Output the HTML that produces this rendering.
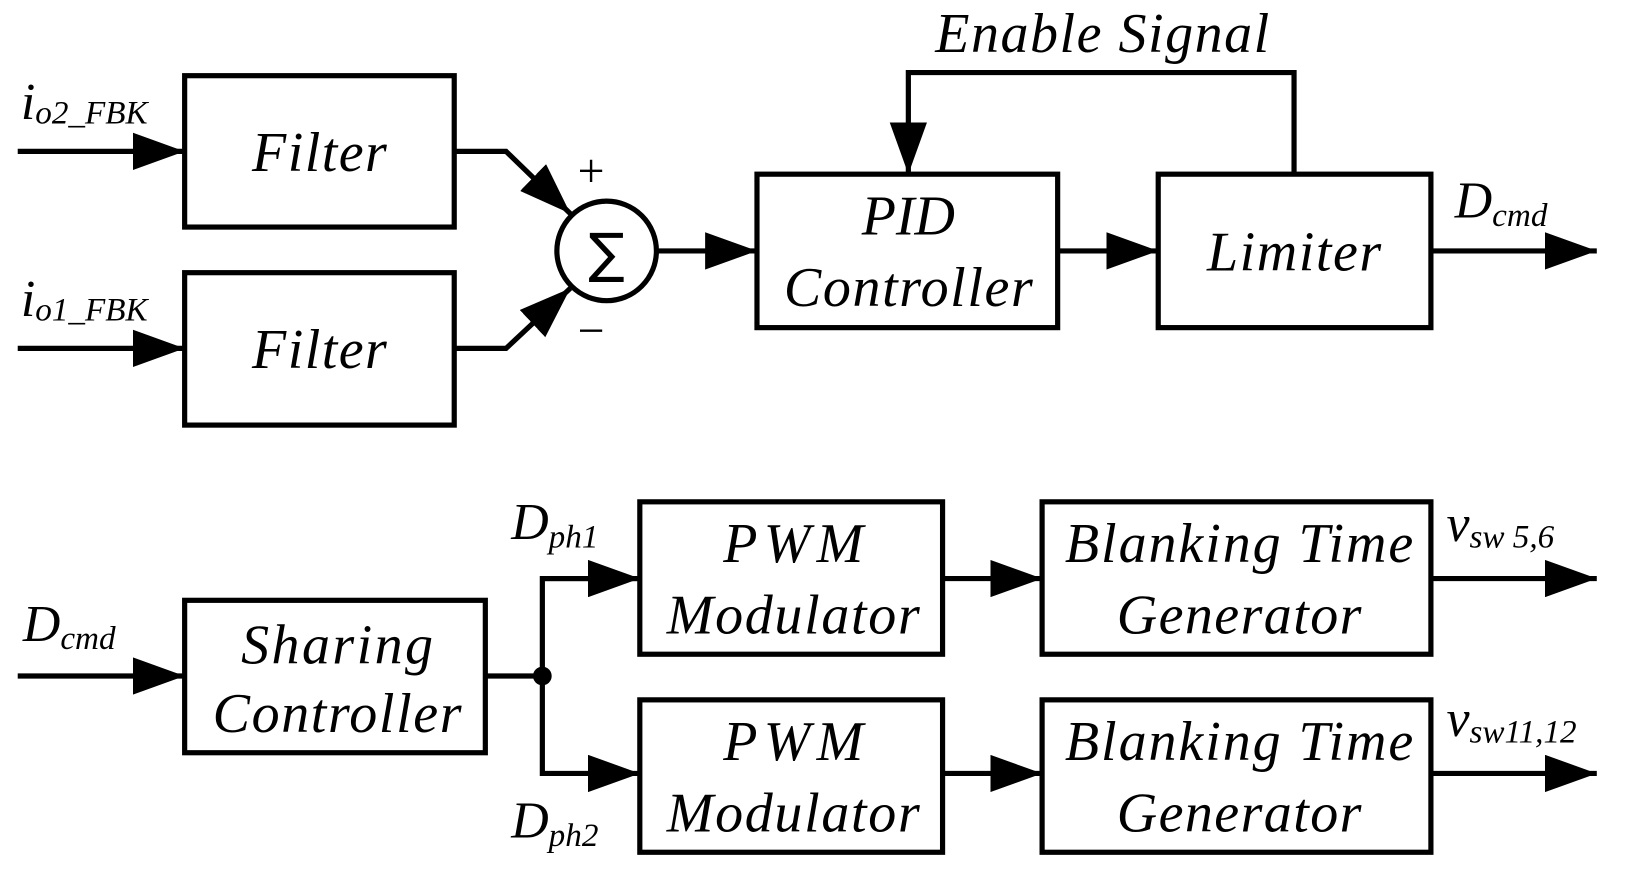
<!DOCTYPE html>
<html><head><style>html,body{margin:0;padding:0;background:#fff;}svg{display:block}
text{font-family:"Liberation Serif","Times New Roman",serif;font-style:italic;}
.n{font-style:normal;}
</style></head>
<body>
<svg width="1628" height="873" viewBox="0 0 1570 842" xmlns="http://www.w3.org/2000/svg">
<defs>
<marker id="a" markerWidth="50" markerHeight="36" refX="50" refY="18" orient="auto" markerUnits="userSpaceOnUse">
<path d="M0,0 L50,18 L0,36 Z" fill="#000"/>
</marker>
</defs>
<g fill="none" stroke="#000" stroke-width="5">
<rect x="178" y="73" width="260" height="146"/>
<rect x="178" y="263" width="260" height="147"/>
<rect x="730" y="168" width="290" height="148"/>
<rect x="1117" y="168" width="263" height="148"/>
<rect x="178" y="579" width="290" height="147"/>
<rect x="617" y="484" width="292" height="147"/>
<rect x="617" y="675" width="292" height="147"/>
<rect x="1005" y="484" width="375" height="147"/>
<rect x="1005" y="675" width="375" height="147"/>
<circle cx="585" cy="242" r="48"/>
<line x1="17" y1="146" x2="178" y2="146" marker-end="url(#a)"/>
<line x1="17" y1="336" x2="178" y2="336" marker-end="url(#a)"/>
<polyline points="438,146 488,146 550,206" marker-end="url(#a)"/>
<polyline points="438,336 488,336 550,278" marker-end="url(#a)"/>
<line x1="633" y1="242" x2="730" y2="242" marker-end="url(#a)"/>
<line x1="1020" y1="242" x2="1117" y2="242" marker-end="url(#a)"/>
<polyline points="1248,168 1248,70 876,70 876,168" marker-end="url(#a)"/>
<line x1="1380" y1="242" x2="1540" y2="242" marker-end="url(#a)"/>
<line x1="17" y1="652" x2="178" y2="652" marker-end="url(#a)"/>
<line x1="468" y1="652" x2="523" y2="652"/>
<polyline points="617,558 523,558 523,746 617,746" marker-end="url(#a)"/>
<line x1="523" y1="558" x2="617" y2="558" marker-end="url(#a)"/>
<line x1="909" y1="558" x2="1005" y2="558" marker-end="url(#a)"/>
<line x1="909" y1="746" x2="1005" y2="746" marker-end="url(#a)"/>
<line x1="1380" y1="558" x2="1540" y2="558" marker-end="url(#a)"/>
<line x1="1380" y1="746" x2="1540" y2="746" marker-end="url(#a)"/>
</g>
<circle cx="523" cy="652" r="9" fill="#000"/>
<g font-size="54" text-anchor="middle" fill="#000">
<text x="308" y="165" textLength="130">Filter</text>
<text x="308" y="355" textLength="130">Filter</text>
<text x="876" y="226">PID</text>
<text x="876" y="295" textLength="240">Controller</text>
<text x="1248" y="261" textLength="168">Limiter</text>
<text x="325" y="640" textLength="185">Sharing</text>
<text x="325" y="706" textLength="240">Controller</text>
<text x="765" y="542" textLength="135">PWM</text>
<text x="765" y="611" textLength="244">Modulator</text>
<text x="765" y="733" textLength="135">PWM</text>
<text x="765" y="802" textLength="244">Modulator</text>
<text x="1195" y="542" textLength="336">Blanking Time</text>
<text x="1195" y="611" textLength="236">Generator</text>
<text x="1195" y="733" textLength="336">Blanking Time</text>
<text x="1195" y="802" textLength="236">Generator</text>
<text x="1063" y="50" textLength="322">Enable Signal</text>
</g>
<text class="n" x="585" y="262" font-size="52" text-anchor="middle" style="font-family:'DejaVu Sans',sans-serif">∑</text>
<text class="n" x="570" y="180" font-size="46" text-anchor="middle">+</text>
<text class="n" x="570" y="334" font-size="46" text-anchor="middle">−</text>
<g fill="#000">
<text x="20" y="115" font-size="50">i<tspan font-size="32" dy="4">o2_FBK</tspan></text>
<text x="20" y="305" font-size="50">i<tspan font-size="32" dy="4">o1_FBK</tspan></text>
<text x="1403" y="210" font-size="50">D<tspan font-size="32" dy="8">cmd</tspan></text>
<text x="22" y="618" font-size="50">D<tspan font-size="32" dy="8">cmd</tspan></text>
<text x="493" y="520" font-size="50">D<tspan font-size="32" dy="8">ph1</tspan></text>
<text x="493" y="808" font-size="50">D<tspan font-size="32" dy="8">ph2</tspan></text>
<text x="1395" y="522" font-size="50">v<tspan font-size="32" dy="6">sw 5,6</tspan></text>
<text x="1395" y="710" font-size="50">v<tspan font-size="32" dy="6">sw11,12</tspan></text>
</g>
</svg>
</body></html>
